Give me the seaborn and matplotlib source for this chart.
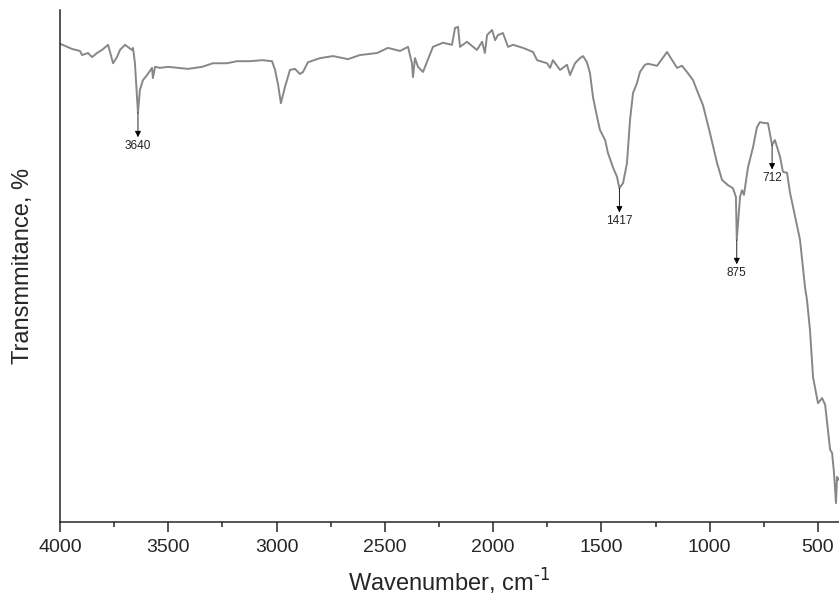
import matplotlib
matplotlib.use('Agg')
import matplotlib.pyplot as plt
import seaborn as sns
import pandas as pd

# FTIR spectrum (wavenumber, cm-1 / transmittance, %)
wavenumber = [4000, 3977, 3945, 3908, 3898, 3871, 3852, 3829, 3806, 3778, 3755, 3737,
              3723, 3700, 3681, 3668, 3663, 3654, 3640, 3631, 3617, 3598, 3575, 3571,
              3561, 3538, 3501, 3455, 3409, 3344, 3294, 3229, 3183, 3123, 3067, 3021,
              3007, 2993, 2980, 2961, 2938, 2915, 2892, 2878, 2855, 2799, 2739, 2670,
              2615, 2536, 2486, 2430, 2393, 2375, 2370, 2361, 2347, 2324, 2278, 2232,
              2190, 2176, 2162, 2153, 2121, 2075, 2051, 2038, 2028, 2005, 1991, 1978,
              1955, 1931, 1908, 1862, 1816, 1797, 1751, 1737, 1724, 1691, 1659, 1645,
              1622, 1599, 1585, 1567, 1553, 1539, 1520, 1507, 1483, 1470, 1447, 1428,
              1417, 1400, 1382, 1368, 1354, 1336, 1322, 1299, 1285, 1243, 1197, 1151,
              1128, 1105, 1077, 1054, 1031, 999, 966, 943, 916, 893, 879, 875, 860,
              851, 842, 823, 800, 782, 768, 745, 731, 712, 699, 675, 662, 643, 629,
              615, 583, 560, 551, 537, 523, 500, 481, 467, 444, 435, 426, 417, 412, 403]
transmittance = [93.4, 93.0, 92.4, 92.0, 91.2, 91.6, 90.8, 91.6, 92.2, 93.2, 89.6, 90.8,
                 92.2, 93.2, 92.6, 92.2, 92.6, 89.6, 79.9, 84.4, 86.3, 87.3, 88.7, 86.7,
                 88.9, 88.7, 88.9, 88.7, 88.5, 88.9, 89.6, 89.6, 90.0, 90.0, 90.2, 90.0,
                 88.3, 85.4, 81.8, 85.0, 88.3, 88.5, 87.5, 87.9, 89.8, 90.6, 91.0, 90.4,
                 91.2, 91.6, 92.6, 92.0, 92.8, 89.6, 86.9, 90.6, 88.9, 87.9, 92.8, 93.6,
                 93.2, 96.5, 96.7, 92.8, 93.8, 92.2, 93.8, 91.6, 95.1, 96.1, 94.1, 95.1,
                 95.5, 92.8, 93.2, 92.6, 91.8, 90.2, 89.6, 88.7, 90.2, 88.3, 89.3, 87.3,
                 89.6, 90.6, 91.0, 89.8, 87.7, 83.0, 79.1, 76.6, 74.6, 72.1, 69.3, 67.4,
                 65.2, 66.2, 70.1, 78.5, 83.8, 85.7, 87.9, 89.3, 89.5, 89.1, 91.8, 88.7,
                 89.1, 87.9, 86.3, 83.8, 81.4, 76.0, 70.1, 66.8, 65.8, 65.2, 63.5, 55.1, 63.5,
                 64.8, 63.9, 69.3, 73.2, 77.1, 78.1, 77.9, 77.9, 73.6, 74.6, 71.3, 68.4, 68.2,
                 64.3, 61.5, 55.1, 45.9, 43.4, 37.5, 28.3, 23.2, 24.2, 22.9, 14.1, 13.5, 9.6,
                 3.7, 8.8, 8.2]

# marked bands
peak_pos = [3640, 1417, 875, 712]
peak_val = [79.9, 65.2, 55.1, 73.6]
peak_labels = ['3640', '1417', '875', '712']

df = pd.DataFrame({'wavenumber': wavenumber, 'transmittance': transmittance})

sns.set_style('ticks')
plt.rcParams['font.family'] = ['Liberation Sans', 'DejaVu Sans']
plt.rcParams['axes.unicode_minus'] = False

fig, ax = plt.subplots(figsize=(8.39, 6.0), dpi=100)
fig.subplots_adjust(left=60 / 839, right=1.0, top=1 - 10 / 600, bottom=1 - 522 / 600)

sns.lineplot(data=df, x='wavenumber', y='transmittance', ax=ax, color='#878787',
             linewidth=1.4, sort=False)

for pos, val, lab in zip(peak_pos, peak_val, peak_labels):
    ax.annotate('', xy=(pos, val), xytext=(0, -17.5), textcoords='offset points',
                arrowprops=dict(arrowstyle='<|-', color='black', lw=0.6,
                                shrinkA=0, shrinkB=0, mutation_scale=9))
    ax.annotate(lab, xy=(pos, val), xytext=(0, -19.5), textcoords='offset points',
                ha='center', va='top', fontsize=8.5, color='#222222')

ax.set_xlim(4000, 403)
ax.set_ylim(0, 100)
ax.set_xticks([4000, 3500, 3000, 2500, 2000, 1500, 1000, 500])
ax.set_xticks(range(3750, 400, -500), minor=True)
ax.set_yticks([])
ax.tick_params(axis='x', which='major', direction='out', length=7, width=1.1,
               labelsize=14, pad=5)
ax.tick_params(axis='x', which='minor', direction='out', length=3.5, width=1.1)
for side in ['left', 'bottom']:
    ax.spines[side].set_linewidth(1.1)
sns.despine(ax=ax)

ax.set_xlabel('Wavenumber, cm$^{\\text{-1}}$', fontsize=17, labelpad=8)
ax.set_ylabel('Transmmitance, %', fontsize=17, labelpad=19)

fig.savefig('out.png', dpi=100)
